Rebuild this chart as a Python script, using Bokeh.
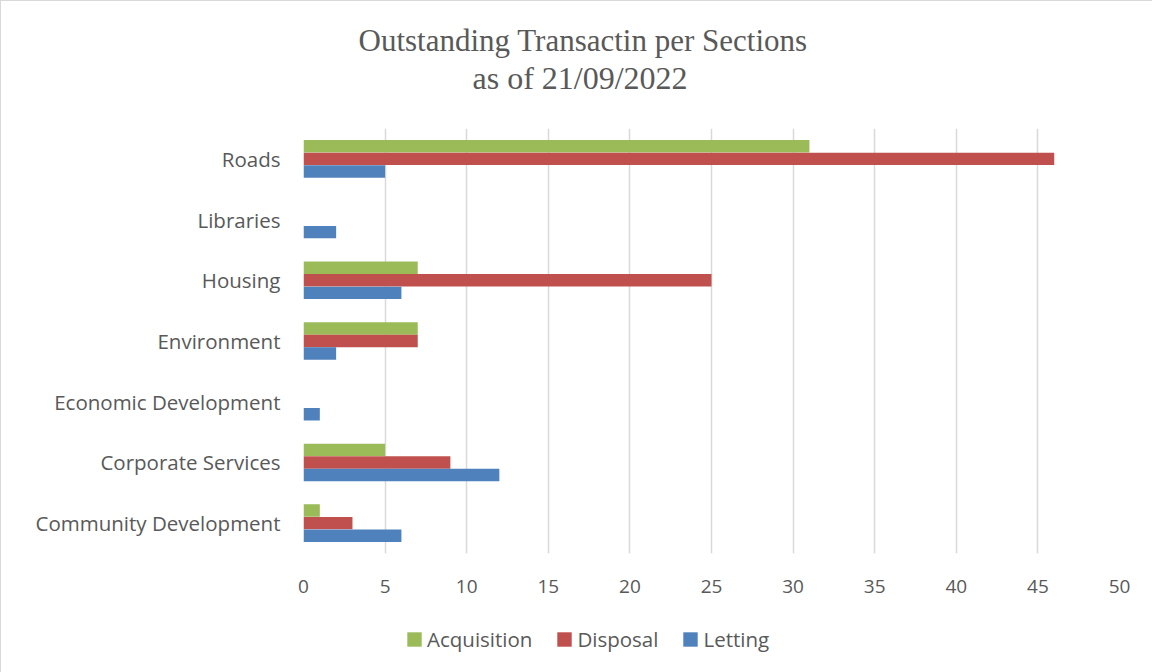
from bokeh.plotting import figure
from bokeh.layouts import column
from bokeh.models import (FactorRange, Range1d, FixedTicker, Legend, LegendItem, Title,
                          ColumnDataSource)
from bokeh.transform import dodge
from bokeh.embed import file_html
from bokeh.resources import INLINE

categories = ["Community Development", "Corporate Services", "Economic Development",
              "Environment", "Housing", "Libraries", "Roads"]
acquisition = [1, 5, 0, 7, 7, 0, 31]
disposal = [3, 9, 0, 7, 25, 0, 46]
letting = [6, 12, 1, 2, 6, 2, 5]
x_ticks = [0, 5, 10, 15, 20, 25, 30, 35, 40, 45, 50]
title_lines = ["Outstanding Transactin per Sections", "as of 21/09/2022"]
series_names = ["Acquisition", "Disposal", "Letting"]
colors = ["#9BBB59", "#C0504D", "#4F81BD"]

src = ColumnDataSource(dict(cat=categories, a=acquisition, d=disposal, l=letting))

FONT = "Open Sans"
TXT = "#595959"
p = figure(width=1152, height=600, output_backend="svg", toolbar_location=None,
           y_range=FactorRange(factors=categories, range_padding=0),
           x_range=Range1d(0, 50),
           min_border_left=302, min_border_right=34, min_border_top=127, min_border_bottom=48)
p.outline_line_color = None

bh = 0.205
r_a = p.hbar(y=dodge("cat", 0.207, range=p.y_range), right="a", left=0, height=bh,
             source=src, fill_color=colors[0], line_color=None)
r_d = p.hbar(y=dodge("cat", 0.0, range=p.y_range), right="d", left=0, height=bh,
             source=src, fill_color=colors[1], line_color=None)
r_l = p.hbar(y=dodge("cat", -0.207, range=p.y_range), right="l", left=0, height=bh,
             source=src, fill_color=colors[2], line_color=None)

p.xaxis.ticker = FixedTicker(ticks=x_ticks)
for ax in (p.xaxis[0], p.yaxis[0]):
    ax.axis_line_color = None
    ax.major_tick_line_color = None
    ax.minor_tick_line_color = None
    ax.major_label_text_font = FONT
    ax.major_label_text_color = TXT
p.xaxis.major_label_text_font_size = "19px"
p.yaxis.major_label_text_font_size = "20.5px"
p.xaxis.major_label_standoff = 20
p.yaxis.major_label_standoff = 17

p.ygrid.grid_line_color = None
p.xgrid.grid_line_color = "#d9d9d9"
p.xgrid.grid_line_width = 1.5

# titles: spacer nearest the frame, then line 2, then line 1
p.add_layout(Title(text=" ", standoff=0, text_font="Liberation Serif",
                   text_font_size="28px"), "above")
p.add_layout(Title(text=title_lines[1], align="left", offset=169, standoff=0,
                   text_font="Liberation Serif", text_font_size="32px",
                   text_font_style="normal", text_color=TXT), "above")
p.add_layout(Title(text=title_lines[0], align="left", offset=55, standoff=0,
                   text_font="Liberation Serif", text_font_size="31px",
                   text_font_style="normal", text_color=TXT), "above")

# legend strip below the chart (frames of the column are aligned)
pl = figure(width=1152, height=72, output_backend="svg", toolbar_location=None,
            x_range=Range1d(0, 1), y_range=Range1d(0, 1),
            x_axis_location=None, y_axis_location=None,
            min_border_left=302, min_border_right=34, min_border_top=0, min_border_bottom=0)
pl.outline_line_color = None
pl.xgrid.grid_line_color = None
pl.ygrid.grid_line_color = None
leg_renderers = [pl.hbar(y=[0.5], right=[0], left=0, height=0.1, fill_color=c, line_color=None)
                 for c in colors]
legend = Legend(items=[LegendItem(label=n, renderers=[r])
                       for n, r in zip(series_names, leg_renderers)],
                orientation="horizontal", location=(102, 20),
                label_text_font=FONT, label_text_font_size="20.5px",
                label_text_color=TXT, glyph_width=18, glyph_height=18,
                label_standoff=4, spacing=23, border_line_color=None,
                background_fill_alpha=0, margin=0, padding=0)
pl.add_layout(legend, "center")

layout = column(p, pl, spacing=0)
layout.styles = {"border-left": "1.5px solid #d9d9d9", "border-top": "1.5px solid #d9d9d9"}
open("out.html", "w").write(file_html(layout, INLINE))
